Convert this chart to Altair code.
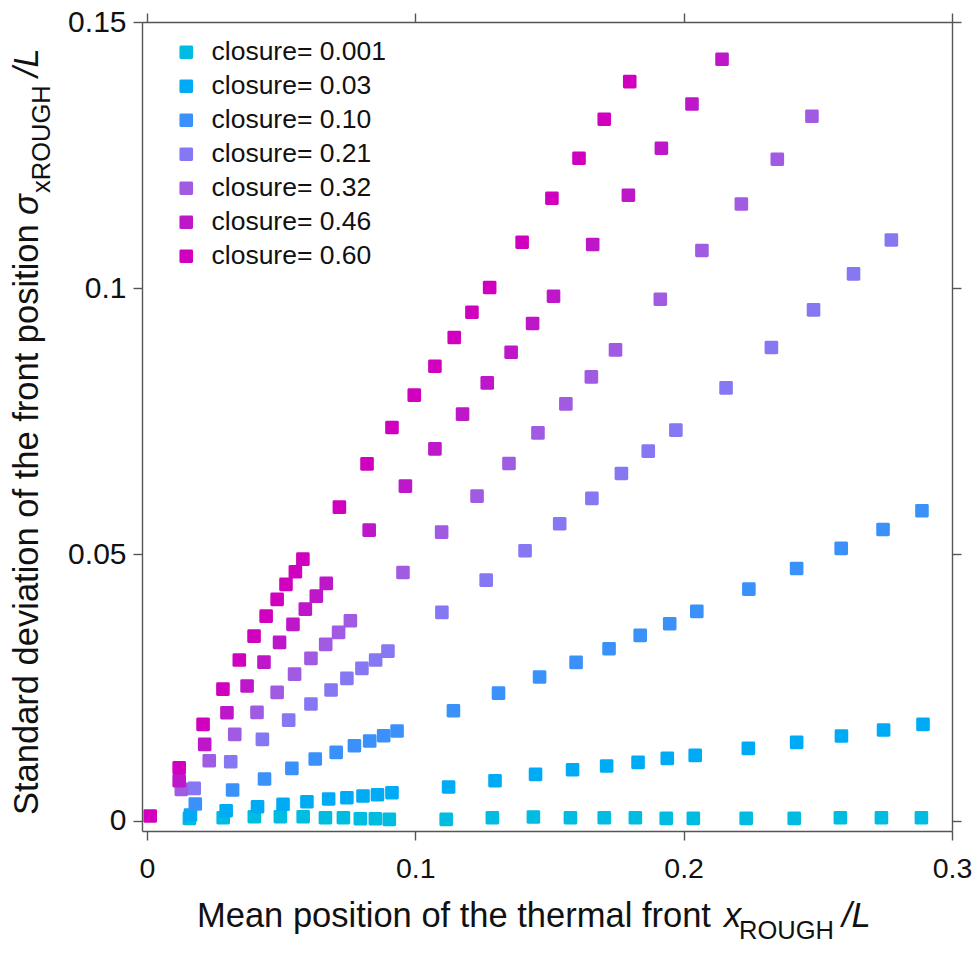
import altair as alt
import pandas as pd

closures = ["closure= 0.001", "closure= 0.03", "closure= 0.10", "closure= 0.21",
            "closure= 0.32", "closure= 0.46", "closure= 0.60"]
colors = ["#00BCE0", "#00ABF6", "#3A91FA", "#8677F2", "#A05BE2", "#BE16C9", "#D000BE"]

x_0001 = [0.0158, 0.0284, 0.0400, 0.0497, 0.0582, 0.0665, 0.0732, 0.0795, 0.0851, 0.0903,
          0.1115, 0.1287, 0.1440, 0.1578, 0.1704, 0.1820, 0.1935, 0.2036, 0.2233, 0.2412, 0.2584, 0.2737, 0.2886]
y_0001 = [0.00045, 0.00056, 0.00075, 0.00075, 0.00075, 0.00056, 0.00056, 0.00038, 0.00038, 0.00026,
          0.00026, 0.00056, 0.00069, 0.00056, 0.00056, 0.00056, 0.00045, 0.00045, 0.00045, 0.00045, 0.00056, 0.00056, 0.00056]

x_003 = [0.0162, 0.0295, 0.0412, 0.0507, 0.0596, 0.0677, 0.0745, 0.0805, 0.0859, 0.0913,
         0.1124, 0.1297, 0.1448, 0.1586, 0.1713, 0.1830, 0.1939, 0.2043, 0.2241, 0.2421, 0.2588, 0.2745, 0.2892]
y_003 = [0.00107, 0.00188, 0.00263, 0.00308, 0.00357, 0.00408, 0.00432, 0.00464, 0.00488, 0.00526,
         0.00633, 0.00751, 0.00871, 0.00957, 0.01027, 0.01096, 0.01171, 0.01228, 0.01359, 0.01472, 0.01590, 0.01703, 0.01810]

x_010 = [0.0180, 0.0319, 0.0438, 0.0540, 0.0627, 0.0705, 0.0773, 0.0830, 0.0882, 0.0932,
         0.1142, 0.1310, 0.1463, 0.1599, 0.1722, 0.1838, 0.1948, 0.2049, 0.2243, 0.2421, 0.2587, 0.2743, 0.2888]
y_010 = [0.00313, 0.00576, 0.00783, 0.00984, 0.01158, 0.01283, 0.01408, 0.01496, 0.01596, 0.01684,
         0.02065, 0.02397, 0.02698, 0.02974, 0.03229, 0.03481, 0.03698, 0.03931, 0.04350, 0.04738, 0.05114, 0.05470, 0.05820]

x_021 = [0.0176, 0.0312, 0.0430, 0.0528, 0.0611, 0.0686, 0.0745, 0.0801, 0.0852, 0.0898,
         0.1099, 0.1264, 0.1409, 0.1538, 0.1658, 0.1768, 0.1868, 0.1971, 0.2158, 0.2327, 0.2484, 0.2633, 0.2774]
y_021 = [0.00608, 0.01108, 0.01528, 0.01890, 0.02191, 0.02454, 0.02673, 0.02861, 0.03017, 0.03186,
         0.03912, 0.04519, 0.05069, 0.05576, 0.06053, 0.06522, 0.06941, 0.07335, 0.08129, 0.08887, 0.09593, 0.10269, 0.10907]

x_032 = [0.0128, 0.0232, 0.0327, 0.0410, 0.0485, 0.0550, 0.0611, 0.0666, 0.0714, 0.0758,
         0.0954, 0.1098, 0.1230, 0.1349, 0.1457, 0.1561, 0.1656, 0.1746, 0.1913, 0.2068, 0.2215, 0.2349, 0.2478]
y_032 = [0.00589, 0.01126, 0.01622, 0.02035, 0.02410, 0.02754, 0.03049, 0.03312, 0.03537, 0.03755,
         0.04663, 0.05420, 0.06096, 0.06710, 0.07284, 0.07829, 0.08335, 0.08842, 0.09794, 0.10708, 0.11583, 0.12422, 0.13230]

x_046 = [0.0120, 0.0215, 0.0298, 0.0373, 0.0436, 0.0494, 0.0544, 0.0590, 0.0631, 0.0668,
         0.0828, 0.0963, 0.1073, 0.1176, 0.1268, 0.1357, 0.1437, 0.1515, 0.1661, 0.1794, 0.1917, 0.2031, 0.2143]
y_046 = [0.00751, 0.01434, 0.02028, 0.02529, 0.02979, 0.03349, 0.03687, 0.03974, 0.04218, 0.04457,
         0.05457, 0.06283, 0.06984, 0.07635, 0.08223, 0.08799, 0.09338, 0.09850, 0.10821, 0.11747, 0.12629, 0.13461, 0.14300]

x_060 = [0.0012, 0.0120, 0.0209, 0.0283, 0.0344, 0.0399, 0.0444, 0.0485, 0.0518, 0.0553, 0.0581,
         0.0717, 0.0820, 0.0913, 0.0996, 0.1073, 0.1145, 0.1211, 0.1277, 0.1398, 0.1509, 0.1610, 0.1704, 0.1799]
y_060 = [0.00088, 0.00995, 0.01810, 0.02472, 0.03017, 0.03467, 0.03843, 0.04156, 0.04438, 0.04675, 0.04913,
         0.05889, 0.06702, 0.07385, 0.07992, 0.08536, 0.09075, 0.09550, 0.10014, 0.10864, 0.11690, 0.12441, 0.13173, 0.13881]

x_ticks = [0, 0.1, 0.2, 0.3]
y_ticks = [0, 0.05, 0.1, 0.15]

series_x = [x_0001, x_003, x_010, x_021, x_032, x_046, x_060]
series_y = [y_0001, y_003, y_010, y_021, y_032, y_046, y_060]

rows = []
for name, xs, ys in zip(closures, series_x, series_y):
    for a, b in zip(xs, ys):
        rows.append({"closure": name, "x": a, "y": b})
df = pd.DataFrame(rows)

FONT = "Liberation Sans"
AXC = "#555555"
TXT = "#111111"
ROUNDSQ = ("M -0.78 -1 L 0.78 -1 Q 1 -1 1 -0.78 L 1 0.78 Q 1 1 0.78 1 "
           "L -0.78 1 Q -1 1 -1 0.78 L -1 -0.78 Q -1 -1 -0.78 -1 Z")
LABEL_EXPR = "datum.value == 0 ? '0' : format(datum.value, '.2~f')"

xscale = alt.Scale(domain=[-0.00186, 0.3], nice=False, zero=False)
yscale = alt.Scale(domain=[-0.00193, 0.15], nice=False, zero=False)

common_axis = dict(grid=False, title=None, domainColor=AXC, domainWidth=1.4,
                   tickColor=AXC, tickWidth=1.4, tickSize=9,
                   labelFont=FONT, labelColor=TXT,
                   labelFlush=False, labelOverlap=False, labelBound=False,
                   labelExpr=LABEL_EXPR)

points = alt.Chart(df).mark_point(shape=ROUNDSQ, filled=True, size=185, opacity=1).encode(
    x=alt.X("x:Q", scale=xscale, axis=alt.Axis(orient="bottom", values=x_ticks, labelPadding=14,
                                               labelFontSize=28.5, **common_axis)),
    y=alt.Y("y:Q", scale=yscale, axis=alt.Axis(orient="left", values=y_ticks, labelPadding=7,
                                               labelFontSize=30, **common_axis)),
    color=alt.Color("closure:N", sort=closures,
                    scale=alt.Scale(domain=closures, range=colors),
                    legend=alt.Legend(title=None, orient="none", legendX=31, legendY=17,
                                      symbolType=ROUNDSQ, symbolSize=185, symbolStrokeWidth=0,
                                      symbolOpacity=1, labelFont=FONT, labelFontSize=26.5,
                                      labelColor=TXT, labelOffset=12, labelLimit=0,
                                      rowPadding=7, padding=0)),
    order=alt.Order("idx:Q"),
).transform_window(idx="row_number()")

frame = alt.Chart(df).mark_point(opacity=0).encode(
    x=alt.X("x:Q", scale=xscale, axis=alt.Axis(orient="top", values=x_ticks, labels=False, **common_axis)),
    y=alt.Y("y:Q", scale=yscale, axis=alt.Axis(orient="right", values=y_ticks, labels=False, **common_axis)),
)

one = pd.DataFrame({"a": [0]})

def txt(s, x, y, size, angle=0, italic=False):
    return alt.Chart(one).mark_text(
        text=s, align="left", baseline="alphabetic", font=FONT, fontSize=size,
        fontStyle="italic" if italic else "normal", angle=angle, color=TXT
    ).encode(x=alt.value(x), y=alt.value(y))

xt = [
    txt("Mean position of the thermal front", 55, 905, 34.5),
    txt("x", 582, 905, 34.5, italic=True),
    txt("ROUGH", 597, 917, 25.5),
    txt("/L", 700, 905, 34.5, italic=True),
]
yt = [
    txt("Standard deviation of the front position", -104, 793, 34.5, angle=270),
    txt("σ", -104, 193, 34.5, angle=270, italic=True),
    txt("xROUGH", -92, 171, 25.5, angle=270),
    txt("/L", -104, 55, 34.5, angle=270, italic=True),
]

chart = alt.layer(frame, points, *xt, *yt).resolve_axis(x="independent", y="independent").properties(
    width=810, height=809,
    autosize=alt.AutoSizeParams(type="none"),
    padding={"left": 142, "top": 22, "right": 20, "bottom": 122},
    background="white",
).configure_view(stroke=None)

chart.save("out.html", embed_options={"renderer": "svg", "actions": False})
